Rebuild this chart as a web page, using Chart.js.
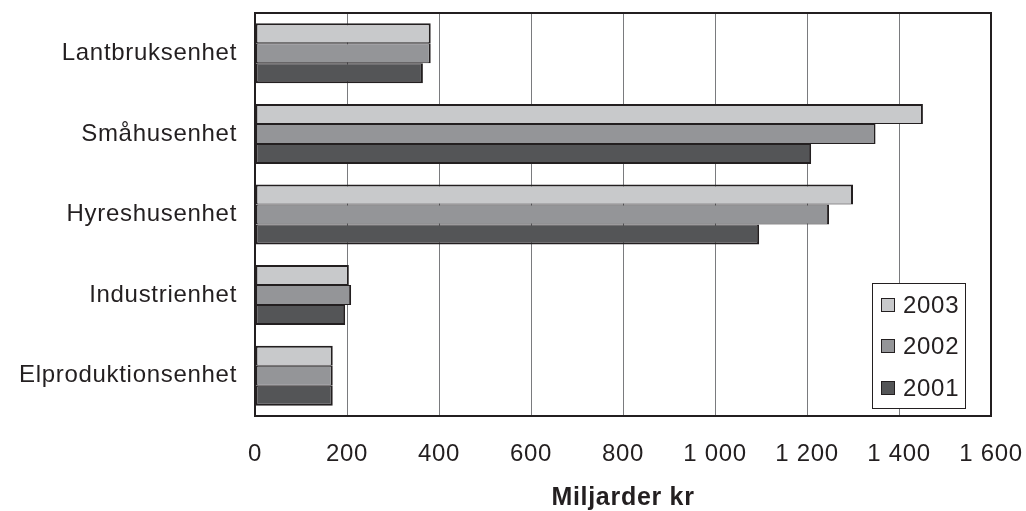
<!DOCTYPE html>
<html>
<head>
<meta charset="utf-8">
<style>
  html, body { margin: 0; padding: 0; background: #ffffff; }
  #wrap { width: 1026px; height: 511px; }
</style>
<script src="https://cdn.jsdelivr.net/npm/chart.js@4.4.1/dist/chart.umd.min.js"></script>
</head>
<body>
<div id="wrap"><canvas id="c" width="1026" height="511"></canvas></div>
<script>
const categories = ["Lantbruksenhet", "Småhusenhet", "Hyreshusenhet", "Industrienhet", "Elproduktionsenhet"];
const seriesLabels = ["2003", "2002", "2001"];
const values2003 = [382, 1452, 1300, 204, 169];
const values2002 = [382, 1349, 1248, 209, 169];
const values2001 = [365, 1209, 1096, 196, 169];
const xTickValues = [0, 200, 400, 600, 800, 1000, 1200, 1400, 1600];
const xTitle = "Miljarder kr";

const colors = ["#c8c9cb", "#949598", "#545557"];
const ink = "#231f20";
const FONT = "'Liberation Sans', Arial, Helvetica, sans-serif";
const borders = [
  { top: 2, bottom: 1, left: 2, right: 2 },
  { top: 1, bottom: 1, left: 2, right: 2 },
  { top: 1, bottom: 2, left: 2, right: 2 }
];

function fmt(v) {
  return String(v).replace(/\B(?=(\d{3})+(?!\d))/g, " ");
}

function zeroPad(scale) {
  scale.paddingTop = 0; scale.paddingBottom = 0;
  scale.paddingLeft = 0; scale.paddingRight = 0;
}

const letterSpacingPlugin = {
  id: "ls",
  beforeDraw(chart) { chart.ctx.letterSpacing = "0.7px"; },
  afterDraw(chart) { chart.ctx.letterSpacing = "0px"; }
};

const framePlugin = {
  id: "frame",
  afterDatasetsDraw(chart) {
    const { ctx, chartArea: a } = chart;
    ctx.save();
    ctx.strokeStyle = ink;
    ctx.lineWidth = 2;
    ctx.strokeRect(a.left, a.top, a.right - a.left, a.bottom - a.top);
    ctx.restore();
  }
};

const legendPlugin = {
  id: "boxLegend",
  afterDatasetsDraw(chart) {
    const { ctx, chartArea: a } = chart;
    const w = 94, h = 126;
    const x0 = a.right - 25 - w;
    const y0 = a.bottom - 7 - h;
    ctx.save();
    ctx.letterSpacing = "0.7px";
    ctx.fillStyle = "#ffffff";
    ctx.fillRect(x0, y0, w, h);
    ctx.strokeStyle = ink;
    ctx.lineWidth = 1;
    ctx.strokeRect(x0 + 0.5, y0 + 0.5, w - 1, h - 1);
    const offs = [22, 63, 105];
    chart.data.datasets.forEach((ds, i) => {
      const cy = y0 + offs[i];
      ctx.fillStyle = ds.backgroundColor;
      ctx.fillRect(x0 + 9, cy - 7, 14, 14);
      ctx.strokeStyle = ink;
      ctx.lineWidth = 1;
      ctx.strokeRect(x0 + 9.5, cy - 6.5, 13, 13);
      ctx.fillStyle = ink;
      ctx.font = "24px " + FONT;
      ctx.textBaseline = "middle";
      ctx.textAlign = "left";
      ctx.fillText(ds.label, x0 + 31, cy + 1);
    });
    ctx.restore();
  }
};

const seriesData = [values2003, values2002, values2001];

new Chart(document.getElementById("c"), {
  type: "bar",
  data: {
    labels: categories,
    datasets: seriesLabels.map((lab, i) => ({
      label: lab,
      data: seriesData[i],
      backgroundColor: colors[i],
      borderColor: ink,
      borderWidth: borders[i],
      borderSkipped: false,
      categoryPercentage: 0.745,
      barPercentage: 1.0
    }))
  },
  options: {
    indexAxis: "y",
    responsive: false,
    animation: false,
    devicePixelRatio: 1,
    layout: { padding: { top: 13, right: 35, bottom: 0, left: 0 } },
    plugins: {
      legend: { display: false },
      tooltip: { enabled: false }
    },
    scales: {
      x: {
        type: "linear",
        min: 0,
        max: 1600,
        afterBuildTicks(scale) { scale.ticks = xTickValues.map(v => ({ value: v })); },
        afterFit(scale) { scale.height = 95; zeroPad(scale); },
        grid: { color: "#7a7b7e", lineWidth: 1, drawTicks: false },
        border: { display: false },
        ticks: {
          padding: 24,
          color: ink,
          font: { family: FONT, size: 24 },
          maxRotation: 0,
          autoSkip: false,
          callback: (v) => fmt(v)
        },
        title: {
          display: true,
          text: xTitle,
          color: ink,
          font: { family: FONT, size: 25, weight: "bold", lineHeight: 1 },
          padding: { top: 0, bottom: 0 }
        }
      },
      y: {
        type: "category",
        afterFit(scale) { scale.width = 255; zeroPad(scale); },
        grid: { display: false, drawTicks: false },
        border: { display: false },
        ticks: {
          padding: 18,
          color: ink,
          font: { family: FONT, size: 24 },
          autoSkip: false
        }
      }
    }
  },
  plugins: [letterSpacingPlugin, framePlugin, legendPlugin]
});
</script>
</body>
</html>
